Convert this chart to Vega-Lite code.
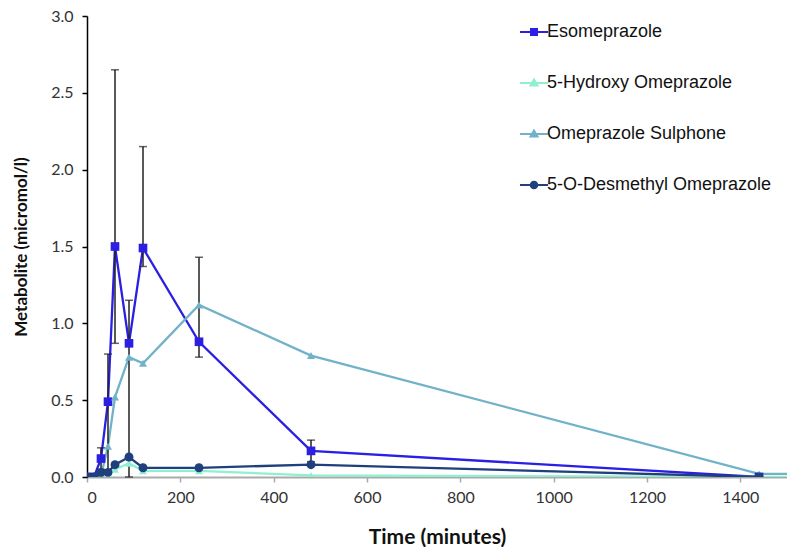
{
  "$schema": "https://vega.github.io/schema/vega-lite/v6.json",
  "width": 700,
  "height": 461,
  "autosize": {"type": "none"},
  "padding": {"left": 87, "top": 16, "right": 0, "bottom": 70},
  "background": "white",
  "config": {
    "view": {"stroke": null},
    "font": "Lato",
    "axis": {"grid": false, "labelFont": "Lato", "titleFont": "Lato", "labelFontSize": 16, "labelColor": "#333333", "titleColor": "#111111", "titleFontWeight": "bold"},
    "legend": {
      "orient": "none", "legendX": 438, "legendY": 7, "title": null,
      "labelFont": "Liberation Sans", "labelFontSize": 18, "labelColor": "#111111", "labelLimit": 400,
      "symbolSize": 100, "symbolStrokeWidth": 2, "labelOffset": 4, "rowPadding": 33, "padding": 0
    }
  },
  "data": {
    "values": [
      {"series": "Esomeprazole", "time": 0, "value": 0.0},
      {"series": "Esomeprazole", "time": 15, "value": 0.0},
      {"series": "Esomeprazole", "time": 30, "value": 0.12, "lo": 0.05, "hi": 0.19},
      {"series": "Esomeprazole", "time": 45, "value": 0.49, "lo": 0.02, "hi": 0.8},
      {"series": "Esomeprazole", "time": 60, "value": 1.5, "lo": 0.87, "hi": 2.65},
      {"series": "Esomeprazole", "time": 90, "value": 0.87, "lo": 0.0, "hi": 1.15},
      {"series": "Esomeprazole", "time": 120, "value": 1.49, "lo": 1.37, "hi": 2.15},
      {"series": "Esomeprazole", "time": 240, "value": 0.88, "lo": 0.78, "hi": 1.43},
      {"series": "Esomeprazole", "time": 480, "value": 0.17, "lo": 0.1, "hi": 0.24},
      {"series": "Esomeprazole", "time": 1440, "value": 0.0},
      {"series": "5-Hydroxy Omeprazole", "time": 0, "value": 0.0},
      {"series": "5-Hydroxy Omeprazole", "time": 15, "value": 0.0},
      {"series": "5-Hydroxy Omeprazole", "time": 30, "value": 0.0},
      {"series": "5-Hydroxy Omeprazole", "time": 45, "value": 0.02},
      {"series": "5-Hydroxy Omeprazole", "time": 60, "value": 0.05},
      {"series": "5-Hydroxy Omeprazole", "time": 90, "value": 0.09},
      {"series": "5-Hydroxy Omeprazole", "time": 120, "value": 0.04},
      {"series": "5-Hydroxy Omeprazole", "time": 240, "value": 0.04},
      {"series": "5-Hydroxy Omeprazole", "time": 480, "value": 0.01},
      {"series": "5-Hydroxy Omeprazole", "time": 1440, "value": 0.0},
      {"series": "5-Hydroxy Omeprazole", "time": 2880, "value": 0.01},
      {"series": "Omeprazole Sulphone", "time": 0, "value": 0.0},
      {"series": "Omeprazole Sulphone", "time": 15, "value": 0.0},
      {"series": "Omeprazole Sulphone", "time": 30, "value": 0.01},
      {"series": "Omeprazole Sulphone", "time": 45, "value": 0.2},
      {"series": "Omeprazole Sulphone", "time": 60, "value": 0.52},
      {"series": "Omeprazole Sulphone", "time": 90, "value": 0.78},
      {"series": "Omeprazole Sulphone", "time": 120, "value": 0.74},
      {"series": "Omeprazole Sulphone", "time": 240, "value": 1.12},
      {"series": "Omeprazole Sulphone", "time": 480, "value": 0.79},
      {"series": "Omeprazole Sulphone", "time": 1440, "value": 0.02},
      {"series": "Omeprazole Sulphone", "time": 2880, "value": 0.025},
      {"series": "5-O-Desmethyl Omeprazole", "time": 0, "value": 0.0},
      {"series": "5-O-Desmethyl Omeprazole", "time": 15, "value": 0.0},
      {"series": "5-O-Desmethyl Omeprazole", "time": 30, "value": 0.03},
      {"series": "5-O-Desmethyl Omeprazole", "time": 45, "value": 0.03},
      {"series": "5-O-Desmethyl Omeprazole", "time": 60, "value": 0.08},
      {"series": "5-O-Desmethyl Omeprazole", "time": 90, "value": 0.13},
      {"series": "5-O-Desmethyl Omeprazole", "time": 120, "value": 0.06},
      {"series": "5-O-Desmethyl Omeprazole", "time": 240, "value": 0.06},
      {"series": "5-O-Desmethyl Omeprazole", "time": 480, "value": 0.08},
      {"series": "5-O-Desmethyl Omeprazole", "time": 1440, "value": 0.0}
    ]
  },
  "encoding": {
    "x": {"field": "time", "type": "quantitative", "scale": {"domain": [0, 1500], "nice": false},
      "axis": {"title": "Time (minutes)", "values": [0, 200, 400, 600, 800, 1000, 1200, 1400], "format": "d", "domainColor": "#aaaaaa", "domainWidth": 2, "tickColor": "#aaaaaa", "tickSize": 5, "tickWidth": 1.5, "labelPadding": 7, "titleFontSize": 21, "titlePadding": 21}}
  },
  "layer": [
    {
      "mark": {"type": "line", "strokeWidth": 2.3, "clip": true},
      "encoding": {
        "y": {"field": "value", "type": "quantitative", "scale": {"domain": [0, 3], "nice": false},
          "axis": {"title": "Metabolite (micromol/l)", "values": [0, 0.5, 1, 1.5, 2, 2.5, 3], "format": ".1f", "domainColor": "#000000", "domainWidth": 1.5, "tickColor": "#000000", "tickSize": 5, "tickWidth": 1.5, "labelPadding": 9, "titleFontSize": 17, "titlePadding": 20}},
        "color": {"field": "series", "type": "nominal",
          "scale": {"domain": ["Esomeprazole", "5-Hydroxy Omeprazole", "Omeprazole Sulphone", "5-O-Desmethyl Omeprazole"], "range": ["#2a1fe3", "#8ef0cf", "#72b2c8", "#1f3f7d"]},
          "legend": {
            "encode": {"symbols": {"update": {
              "shape": {"signal": "datum.value === 'Esomeprazole' ? 'M-2.8,0H2.8M-0.6,-0.6H0.6V0.6H-0.6Z' : datum.value === '5-O-Desmethyl Omeprazole' ? 'M-2.8,0H2.8M-0.65,0A0.65,0.65 0 1,0 0.65,0A0.65,0.65 0 1,0 -0.65,0Z' : 'M-2.8,0H2.8M0,-0.7L0.7,0.5L-0.7,0.5Z'"},
              "fill": {"scale": "color", "field": "value"},
              "stroke": {"scale": "color", "field": "value"},
              "opacity": {"value": 1}
            }}}
          }}
      }
    },
    {
      "transform": [{"filter": "isValid(datum.hi)"}],
      "mark": {"type": "rule", "color": "#222222", "strokeWidth": 1.5},
      "encoding": {
        "y": {"field": "lo", "type": "quantitative"},
        "y2": {"field": "hi"}
      }
    },
    {
      "transform": [{"filter": "isValid(datum.hi)"}],
      "mark": {"type": "tick", "color": "#222222", "thickness": 1.5, "size": 8, "orient": "horizontal"},
      "encoding": {
        "y": {"field": "hi", "type": "quantitative"}
      }
    },
    {
      "transform": [{"filter": "isValid(datum.lo)"}],
      "mark": {"type": "tick", "color": "#222222", "thickness": 1.5, "size": 8, "orient": "horizontal"},
      "encoding": {
        "y": {"field": "lo", "type": "quantitative"}
      }
    },
    {
      "transform": [{"filter": "datum.series === 'Esomeprazole'"}],
      "mark": {"type": "point", "shape": "square", "filled": true, "opacity": 1, "size": 75, "clip": true},
      "encoding": {
        "y": {"field": "value", "type": "quantitative"},
        "color": {"field": "series", "type": "nominal", "legend": null}
      }
    },
    {
      "transform": [{"filter": "datum.series === '5-Hydroxy Omeprazole' || datum.series === 'Omeprazole Sulphone'"}],
      "mark": {"type": "point", "shape": "triangle-up", "filled": true, "opacity": 1, "size": 65, "clip": true},
      "encoding": {
        "y": {"field": "value", "type": "quantitative"},
        "color": {"field": "series", "type": "nominal", "legend": null}
      }
    },
    {
      "transform": [{"filter": "datum.series === '5-O-Desmethyl Omeprazole'"}],
      "mark": {"type": "point", "shape": "circle", "filled": true, "opacity": 1, "size": 80, "clip": true},
      "encoding": {
        "y": {"field": "value", "type": "quantitative"},
        "color": {"field": "series", "type": "nominal", "legend": null}
      }
    }
  ]
}
